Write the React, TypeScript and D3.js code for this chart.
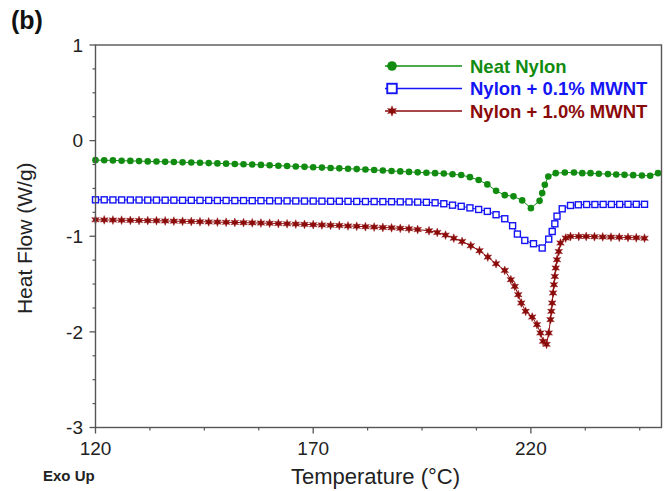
import React from "react";
import * as d3 from "d3";

// ---------- data ----------
const greenT = [120,122,124,126,128,130,132,134,136,138,140,142,144,146,148,150,152,154,156,158,160,162,164,166,168,170,172,174,176,178,180,182,184,186,188,190,192,194,196,198,200,202,204,206,208,210,212,214,216,218,220,222,222.6,223.2,224,225.7,227.8,229.9,231.8,233.7,235.6,237.7,239.6,241.5,243.5,245.5,247.4,249.2];
const greenV = [-0.204,-0.205,-0.207,-0.21,-0.212,-0.214,-0.217,-0.219,-0.222,-0.224,-0.227,-0.229,-0.232,-0.235,-0.238,-0.241,-0.244,-0.247,-0.25,-0.254,-0.258,-0.262,-0.266,-0.27,-0.274,-0.278,-0.282,-0.286,-0.29,-0.294,-0.298,-0.302,-0.307,-0.312,-0.317,-0.322,-0.327,-0.332,-0.336,-0.34,-0.344,-0.352,-0.36,-0.382,-0.412,-0.458,-0.525,-0.57,-0.583,-0.625,-0.706,-0.63,-0.549,-0.462,-0.375,-0.34,-0.334,-0.334,-0.34,-0.34,-0.347,-0.35,-0.354,-0.358,-0.361,-0.365,-0.368,-0.34];

const blueT = [120,122,124,126,128,130,132,134,136,138,140,142,144,146,148,150,152,154,156,158,160,162,164,166,168,170,172,174,176,178,180,182,184,186,188,190,192,194,196,198,200,202,204,206,208,210,212,214,215.8,216.9,218.6,220.6,222.6,224.1,224.9,225.5,226,227.2,229.1,230.9,232.8,234.7,236.6,238.5,240.4,242.3,244.2,246.1];
const blueV = [-0.619,-0.619,-0.62,-0.62,-0.621,-0.621,-0.622,-0.622,-0.623,-0.623,-0.624,-0.624,-0.625,-0.625,-0.626,-0.626,-0.627,-0.627,-0.628,-0.628,-0.629,-0.63,-0.63,-0.631,-0.632,-0.632,-0.633,-0.634,-0.634,-0.635,-0.636,-0.637,-0.637,-0.638,-0.639,-0.64,-0.641,-0.643,-0.645,-0.65,-0.66,-0.675,-0.687,-0.703,-0.72,-0.74,-0.775,-0.817,-0.89,-0.977,-1.044,-1.078,-1.123,-1.03,-0.95,-0.87,-0.79,-0.713,-0.678,-0.671,-0.668,-0.668,-0.667,-0.667,-0.667,-0.666,-0.666,-0.666];

const redT = [120,122,124,126,128,130,132,134,136,138,140,142,144,146,148,150,152,154,156,158,160,162,164,166,168,170,172,174,176,178,180,182,184,186,188,190,192,194,196.6,198.5,200.4,202.3,204.2,206.2,208.2,210.1,212,214,215.4,216.3,217.1,217.8,218.8,220.3,221.4,222.2,222.8,223.6,224.1,224.5,224.7,224.9,225.1,225.3,225.5,225.7,226,226.4,226.8,228,229.1,231,232.7,234.6,236.5,238.4,240.3,242.3,244.2,246.1];
const redV = [-0.828,-0.829,-0.831,-0.832,-0.834,-0.835,-0.837,-0.838,-0.84,-0.842,-0.844,-0.846,-0.848,-0.85,-0.852,-0.854,-0.856,-0.858,-0.86,-0.862,-0.864,-0.867,-0.87,-0.873,-0.876,-0.879,-0.882,-0.885,-0.888,-0.892,-0.896,-0.9,-0.904,-0.908,-0.912,-0.917,-0.922,-0.93,-0.943,-0.96,-0.988,-1.02,-1.054,-1.1,-1.151,-1.218,-1.287,-1.357,-1.454,-1.524,-1.611,-1.698,-1.785,-1.845,-1.924,-2.011,-2.099,-2.13,-2.011,-1.872,-1.785,-1.698,-1.593,-1.507,-1.42,-1.332,-1.245,-1.159,-1.071,-1.019,-1.002,-1.002,-1.002,-1.005,-1.007,-1.009,-1.011,-1.013,-1.016,-1.02];

const seriesNames = ["Neat Nylon", "Nylon + 0.1% MWNT", "Nylon + 1.0% MWNT"];
const xTickValues = [120, 170, 220];
const yTickValues = [1, 0, -1, -2, -3];
const xDomain = [120, 250];
const yDomain = [-3, 1];

// ---------- layout ----------
const W = 668, H = 491;
const left = 95.5, right = 661.5, top = 45, bottom = 427.5;
const FONT = "'Liberation Sans', Arial, Helvetica, sans-serif";
const AXIS = "#555";
const TEXT = "#222";
const colors = ["#118c11", "#1414f5", "#8b0a0a"];

const x = d3.scaleLinear().domain(xDomain).range([left, right]);
const y = d3.scaleLinear().domain(yDomain).range([bottom, top]);

// 6-pointed star symbol
const star6 = {
  draw(ctx: any, size: number) {
    const r = Math.sqrt(size) * 0.72;
    const ri = r * 0.46;
    for (let i = 0; i < 12; i++) {
      const a = (i * Math.PI) / 6 - Math.PI / 2;
      const rr = i % 2 === 0 ? r : ri;
      const px = rr * Math.cos(a), py = rr * Math.sin(a);
      if (i === 0) ctx.moveTo(px, py); else ctx.lineTo(px, py);
    }
    ctx.closePath();
  },
};

function zip(t: number[], v: number[]) {
  const n = Math.min(t.length, v.length);
  const out: [number, number][] = [];
  for (let i = 0; i < n; i++) out.push([t[i], v[i]]);
  return out;
}

const series = [
  { name: seriesNames[0], data: zip(greenT, greenV), color: colors[0], kind: "circle" },
  { name: seriesNames[1], data: zip(blueT, blueV), color: colors[1], kind: "square" },
  { name: seriesNames[2], data: zip(redT, redV), color: colors[2], kind: "star" },
];

const lineGen = d3.line<[number, number]>().x((d) => x(d[0])).y((d) => y(d[1]));

function Marker({ kind, cx, cy, color, big }: any) {
  if (kind === "circle") {
    return <circle cx={cx} cy={cy} r={big ? 4.8 : 3.3} fill={color} />;
  }
  if (kind === "square") {
    const s = big ? 9.5 : 6;
    return (
      <rect x={cx - s / 2} y={cy - s / 2} width={s} height={s} fill="#fff" stroke={color} strokeWidth={big ? 1.9 : 1.4} />
    );
  }
  const path = d3.symbol().type(star6 as any).size(big ? 52 : 38)();
  return <path d={path || ""} transform={`translate(${cx},${cy})`} fill={color} stroke={color} strokeWidth={0.4} />;
}

export default function App() {
  const xMinor = d3.range(120, 250.01, 12.5).filter((v) => !xTickValues.includes(v));
  const yMinor = d3.range(-3, 1.001, 0.25).filter((v) => !yTickValues.some((t) => Math.abs(t - v) < 1e-6));
  const legendX0 = 385, legendX1 = 462, legendMarkerX = 392, legendTextX = 470;
  const legendY = [66, 88.5, 111];

  return (
    <svg width={W} height={H} style={{ position: "absolute", left: 0, top: 0, background: "#fff" }} fontFamily={FONT}>
      <rect x={0} y={0} width={W} height={H} fill="#fff" />
      <text x={11} y={29} fontSize={25} fontWeight="bold" fill="#111">(b)</text>

      {/* series */}
      {series.map((s) => (
        <g key={s.name}>
          <path d={lineGen(s.data) || ""} fill="none" stroke={s.color} strokeWidth={1} />
          {s.data.map((d, i) => (
            <Marker key={i} kind={s.kind} cx={x(d[0])} cy={y(d[1])} color={s.color} />
          ))}
        </g>
      ))}

      {/* frame */}
      <rect x={left} y={top} width={right - left} height={bottom - top} fill="none" stroke={AXIS} strokeWidth={1.4} />

      {/* y ticks */}
      {yTickValues.map((v) => (
        <g key={"yt" + v}>
          <line x1={left - 6} x2={left} y1={y(v)} y2={y(v)} stroke={AXIS} strokeWidth={1.3} />
          <text x={83} y={y(v)} dy="0.36em" textAnchor="end" fontSize={19} fill={TEXT}>{v}</text>
        </g>
      ))}
      {yMinor.map((v) => (
        <line key={"ym" + v} x1={left - 3} x2={left} y1={y(v)} y2={y(v)} stroke={AXIS} strokeWidth={1.2} />
      ))}

      {/* x ticks */}
      {xTickValues.map((v) => (
        <g key={"xt" + v}>
          <line x1={x(v)} x2={x(v)} y1={bottom} y2={bottom + 6} stroke={AXIS} strokeWidth={1.3} />
          <text x={x(v)} y={455} textAnchor="middle" fontSize={19} fill={TEXT}>{v}</text>
        </g>
      ))}
      {xMinor.map((v) => (
        <line key={"xm" + v} x1={x(v)} x2={x(v)} y1={bottom} y2={bottom + 3} stroke={AXIS} strokeWidth={1.2} />
      ))}

      {/* axis titles */}
      <text x={(left + right) / 2 - 3} y={484} textAnchor="middle" fontSize={22} fill={TEXT}>Temperature (°C)</text>
      <text transform={`translate(32,${(top + bottom) / 2 + 2}) rotate(-90)`} textAnchor="middle" fontSize={21} fill={TEXT}>Heat Flow (W/g)</text>
      <text x={43} y={481} fontSize={15} fontWeight="bold" fill={TEXT}>Exo Up</text>

      {/* legend */}
      {series.map((s, i) => (
        <g key={"lg" + i}>
          <line x1={legendX0} x2={legendX1} y1={legendY[i]} y2={legendY[i]} stroke={s.color} strokeWidth={1.3} />
          <Marker kind={s.kind} cx={legendMarkerX} cy={legendY[i]} color={s.color} big />
          <text x={legendTextX} y={legendY[i]} dy="0.36em" fontSize={18.5} fontWeight="bold" fill={s.color}>{s.name}</text>
        </g>
      ))}
    </svg>
  );
}
